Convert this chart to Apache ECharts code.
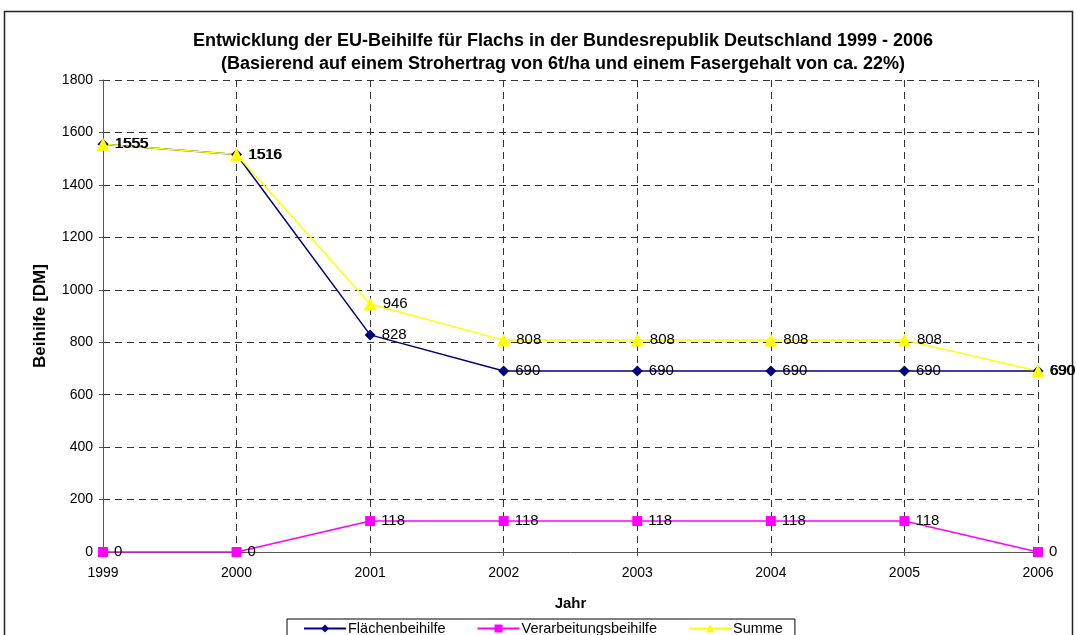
<!DOCTYPE html>
<html>
<head>
<meta charset="utf-8">
<script src="https://cdn.jsdelivr.net/npm/echarts@6/dist/echarts.min.js"></script>
<style>
  html, body { margin: 0; padding: 0; background: #fff; }
  #chart { width: 1077px; height: 635px; }
</style>
</head>
<body>
<div id="chart"></div>
<script>
// Beihilfe in DM je ha
const years = ['1999', '2000', '2001', '2002', '2003', '2004', '2005', '2006'];
const flaeche = [1555, 1516, 828, 690, 690, 690, 690, 690];
const verarbeitung = [0, 0, 118, 118, 118, 118, 118, 0];
const summe = [1555, 1516, 946, 808, 808, 808, 808, 690];

const font = 'Liberation Sans, Arial, sans-serif';
const chart = echarts.init(document.getElementById('chart'));

const lbl = {
  show: true,
  position: 'right',
  distance: 6,
  color: '#000',
  fontFamily: font,
  fontSize: 15
};

let option = {
  animation: false,
  textStyle: { fontFamily: font },
  title: {
    text: 'Entwicklung der EU-Beihilfe für Flachs in der Bundesrepublik Deutschland 1999 - 2006\n(Basierend auf einem Strohertrag von 6t/ha und einem Fasergehalt von ca. 22%)',
    left: 558,
    textAlign: 'center',
    top: 25,
    textStyle: {
      fontFamily: font,
      fontSize: 18,
      fontWeight: 'bold',
      color: '#000',
      lineHeight: 23
    }
  },
  graphic: [{
    type: 'rect',
    shape: { x: 4.5, y: 11.5, width: 1068, height: 640 },
    style: { fill: 'none', stroke: '#222', lineWidth: 1.5 },
    silent: true
  }],
  legend: {
    top: 619,
    left: 287,
    itemGap: 31,
    itemWidth: 42,
    itemHeight: 10,
    padding: [2, 12, 12, 16],
    borderColor: '#000',
    borderWidth: 1,
    textStyle: { fontFamily: font, fontSize: 14.5, color: '#000', padding: [0, 0, 0, -3] },
    data: ['Flächenbeihilfe', 'Verarbeitungsbeihilfe', 'Summe']
  },
  grid: { left: 103, right: 39, top: 80, bottom: 83 },
  xAxis: {
    type: 'category',
    data: years,
    boundaryGap: false,
    name: 'Jahr',
    nameLocation: 'middle',
    nameGap: 44,
    nameTextStyle: { fontFamily: font, fontSize: 15, fontWeight: 'bold', color: '#000' },
    axisLine: { lineStyle: { color: '#555', width: 1 } },
    axisTick: { alignWithLabel: true, length: 4, lineStyle: { color: '#555' } },
    axisLabel: { color: '#000', fontSize: 14, margin: 14, fontFamily: font },
    splitLine: { show: true, lineStyle: { color: '#333', type: [7, 5], width: 1 } }
  },
  yAxis: {
    type: 'value',
    min: 0,
    max: 1800,
    interval: 200,
    name: 'Beihilfe [DM]',
    nameLocation: 'middle',
    nameGap: 54,
    nameTextStyle: { fontFamily: font, fontSize: 17, fontWeight: 'bold', color: '#000' },
    axisLine: { show: true, lineStyle: { color: '#555', width: 1 } },
    axisTick: { show: true, length: 4, lineStyle: { color: '#555' } },
    axisLabel: {
      color: '#000', fontSize: 14, margin: 10, fontFamily: font,
      formatter: (v) => String(v)
    },
    splitLine: { show: true, lineStyle: { color: '#333', type: [7, 5], width: 1 } }
  },
  series: [
    {
      name: 'Flächenbeihilfe',
      type: 'line',
      data: flaeche,
      color: '#000080',
      symbol: 'diamond',
      symbolSize: 11,
      lineStyle: { width: 1.5 },
      label: lbl
    },
    {
      name: 'Verarbeitungsbeihilfe',
      type: 'line',
      data: verarbeitung,
      color: '#ff00ff',
      symbol: 'rect',
      symbolSize: 10,
      lineStyle: { width: 1.5 },
      label: lbl
    },
    {
      name: 'Summe',
      type: 'line',
      data: summe,
      color: '#ffff00',
      symbol: 'triangle',
      symbolSize: 13,
      lineStyle: { width: 1.5 },
      label: lbl
    }
  ]
};

chart.setOption(option);
</script>
</body>
</html>
